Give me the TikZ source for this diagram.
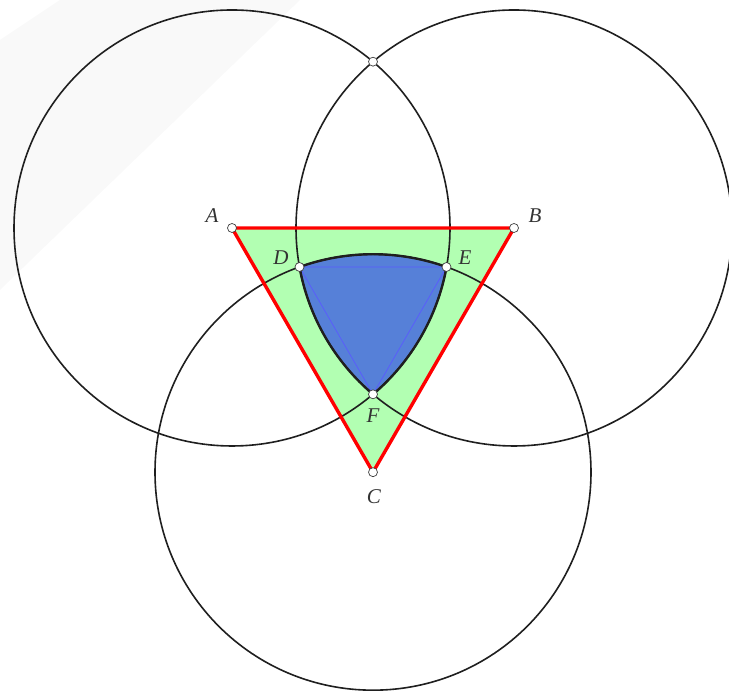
\documentclass[tikz,border=0pt]{standalone}
\usepackage{fontspec}
\newfontfamily\labfont{Liberation Serif}
\begin{document}
\begin{tikzpicture}[x=1pt,y=1pt,
  circ/.style={draw=black!88, line width=1.6pt},
  regionedge/.style={draw=black!88, line width=2.4pt, line join=round},
  redside/.style={draw=red, line width=3.4pt, line join=miter},
  pt/.style={circle, draw=black!75, fill=white, line width=0.7pt, inner sep=0pt, minimum size=9pt},
  lab/.style={text=black!80, font=\labfont\itshape\fontsize{21}{24}\selectfont, inner sep=0pt}]
\useasboundingbox (0,0) rectangle (729,692);
% faint background band
\fill[black!2.5] (0,402) -- (300,692) -- (60,692) -- (0,652) -- cycle;
% main points
\coordinate (A) at (232,464);
\coordinate (B) at (514,464);
\coordinate (C) at (373,219.8);
\coordinate (D) at (299.5,425);
\coordinate (E) at (446.5,425);
\coordinate (F) at (373,297.7);
\coordinate (T) at (373,630.3);
% green triangle
\fill[green!30] (A) -- (B) -- (C) -- cycle;
% blue curved region
\fill[fill={rgb,255:red,86;green,128;blue,216}] (D) arc[start angle=109.71, end angle=70.29, radius=218pt]
  arc[start angle=-10.30, end angle=-49.71, radius=218pt]
  arc[start angle=229.71, end angle=190.30, radius=218pt] -- cycle;
\draw[draw={rgb,255:red,90;green,90;blue,255}, line width=0.7pt] (D) -- (E) -- (F) -- cycle;
% circles
\draw[circ] (A) circle[radius=218pt];
\draw[circ] (B) circle[radius=218pt];
\draw[circ] (C) circle[radius=218pt];
% region boundary
\draw[regionedge] (D) arc[start angle=109.71, end angle=70.29, radius=218pt]
  arc[start angle=-10.30, end angle=-49.71, radius=218pt]
  arc[start angle=229.71, end angle=190.30, radius=218pt] -- cycle;
% red triangle
\draw[redside] (A) -- (B) -- (C) -- cycle;
% point markers
\node[pt] (pA) at (A) {};
\node[pt] (pB) at (B) {};
\node[pt] (pC) at (C) {};
\node[pt] (pD) at (D) {};
\node[pt] (pE) at (E) {};
\node[pt] (pF) at (F) {};
\node[pt] (pT) at (T) {};
% labels
\node[lab] (lA) at (212,476) {A};
\node[lab] (lB) at (535,476) {B};
\node[lab] (lC) at (374,195) {C};
\node[lab] (lD) at (281,434) {D};
\node[lab] (lE) at (465,434) {E};
\node[lab] (lF) at (373,276) {F};
\end{tikzpicture}
\end{document}
